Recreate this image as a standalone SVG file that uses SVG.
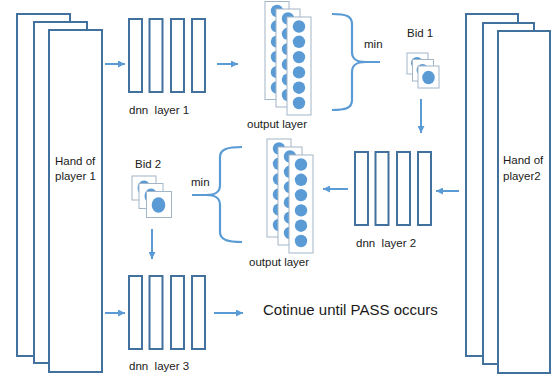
<svg xmlns="http://www.w3.org/2000/svg" xmlns:xlink="http://www.w3.org/1999/xlink" width="557" height="383" viewBox="0 0 557 383">
<style>
.frame{fill:#fff;stroke:#41719C;stroke-width:2}
.layer{fill:#fff;stroke:#41719C;stroke-width:2}
.card{fill:#fff;stroke:#A3B6C8;stroke-width:1}
.dot{fill:#5B9BD5}
.lbl{font-family:"Liberation Sans",Arial,sans-serif;font-size:11.5px;fill:#1a1a1a;white-space:pre}
.big{font-family:"Liberation Sans",Arial,sans-serif;font-size:15px;fill:#1a1a1a}
.arrow{stroke:#5B9BD5;stroke-width:2;fill:none;marker-end:url(#ah)}
.brace{stroke:#5B9BD5;stroke-width:2.2;fill:none}
</style>
<defs>
<marker id="ah" markerUnits="userSpaceOnUse" markerWidth="7" markerHeight="7" refX="7" refY="3.5" orient="auto">
<path d="M0,0 L7,3.5 L0,7 z" fill="#5B9BD5"/>
</marker>
<g id="ocard">
<rect class="card" x="0" y="0" width="24" height="98"/>
<circle class="dot" cx="12" cy="9.5" r="6.2"/>
<circle class="dot" cx="12" cy="24.8" r="6.2"/>
<circle class="dot" cx="12" cy="40.1" r="6.2"/>
<circle class="dot" cx="12" cy="55.4" r="6.2"/>
<circle class="dot" cx="12" cy="70.7" r="6.2"/>
<circle class="dot" cx="12" cy="86" r="6.2"/>
</g>
<g id="dnn">
<rect class="layer" x="0" y="0" width="13" height="73"/>
<rect class="layer" x="20.5" y="0" width="13" height="73"/>
<rect class="layer" x="42" y="0" width="13" height="73"/>
<rect class="layer" x="63" y="0" width="13" height="73"/>
</g>
</defs>

<g id="hand1">
<rect class="frame" x="17" y="14" width="53" height="342"/>
<rect class="frame" x="34" y="22" width="53" height="341"/>
<rect class="frame" x="49" y="30" width="53" height="342"/>
<text class="lbl" x="55" y="165">Hand of</text>
<text class="lbl" x="55" y="180">player 1</text>
</g>

<g id="hand2">
<rect class="frame" x="466" y="14" width="52" height="342"/>
<rect class="frame" x="483" y="23" width="51" height="341"/>
<rect class="frame" x="498" y="31" width="52" height="342"/>
<text class="lbl" x="503" y="164">Hand of</text>
<text class="lbl" x="503" y="180">player2</text>
</g>

<g id="dnn1">
<use xlink:href="#dnn" x="129" y="19"/>
<text class="lbl" x="129" y="114">dnn  layer 1</text>
</g>

<g id="dnn2">
<use xlink:href="#dnn" x="355" y="152"/>
<text class="lbl" x="356" y="247">dnn  layer 2</text>
</g>

<g id="dnn3">
<use xlink:href="#dnn" x="129" y="276"/>
<text class="lbl" x="129" y="370">dnn  layer 3</text>
</g>

<g id="output1">
<use xlink:href="#ocard" x="265" y="1.5"/>
<use xlink:href="#ocard" x="276" y="9"/>
<use xlink:href="#ocard" x="287" y="17"/>
<text class="lbl" x="247" y="128">output layer</text>
</g>

<g id="output2">
<use xlink:href="#ocard" x="267" y="139"/>
<use xlink:href="#ocard" x="278" y="147"/>
<use xlink:href="#ocard" x="289" y="155"/>
<text class="lbl" x="249" y="266">output layer</text>
</g>

<g id="bid1">
<text class="lbl" x="407" y="37">Bid 1</text>
<rect class="card" x="407" y="53" width="21" height="21"/>
<circle class="dot" cx="417" cy="63" r="6"/>
<rect class="card" x="412.5" y="59.5" width="21" height="21.5"/>
<circle class="dot" cx="422.5" cy="70" r="6"/>
<rect class="card" x="418" y="66" width="21" height="22"/>
<ellipse class="dot" cx="428.5" cy="77.5" rx="6.3" ry="6.8"/>
</g>

<g id="bid2">
<text class="lbl" x="135" y="168">Bid 2</text>
<rect class="card" x="132" y="176" width="24" height="24"/>
<ellipse class="dot" cx="144" cy="188" rx="6.5" ry="7.5"/>
<rect class="card" x="139" y="183.5" width="24" height="25"/>
<ellipse class="dot" cx="151" cy="196" rx="6.5" ry="7.5"/>
<rect class="card" x="146.5" y="191.5" width="25" height="26"/>
<ellipse class="dot" cx="158.5" cy="205" rx="6.8" ry="7.8"/>
</g>

<g id="min1">
<path class="brace" d="M332,14 C346,14 352,16 352,24 L352,52 C352,59 356,62 366,62 L380,62 M366,62 C356,62 352,65 352,72 L352,100 C352,108 346,110 332,110"/>
<text class="lbl" x="364" y="48">min</text>
</g>

<g id="min2">
<path class="brace" d="M242,147 C228,147 220,149 220,157 L220,185 C220,192 216,195 206,195 L192,195 M206,195 C216,195 220,198 220,205 L220,232 C220,240 228,242 242,242"/>
<text class="lbl" x="191" y="186">min</text>
</g>

<g id="continue">
<text class="big" x="263" y="315">Cotinue until PASS occurs</text>
</g>

<g id="connectors">
<line class="arrow" x1="105" y1="64" x2="125" y2="64"/>
<line class="arrow" x1="217" y1="64" x2="238" y2="64"/>
<line class="arrow" x1="421" y1="99" x2="421" y2="133"/>
<line class="arrow" x1="459" y1="191" x2="436" y2="191"/>
<line class="arrow" x1="348" y1="189" x2="323" y2="189"/>
<line class="arrow" x1="152" y1="229" x2="152" y2="259"/>
<line class="arrow" x1="105" y1="313" x2="125" y2="313"/>
<line class="arrow" x1="214" y1="313" x2="243" y2="313"/>
</g>
</svg>
